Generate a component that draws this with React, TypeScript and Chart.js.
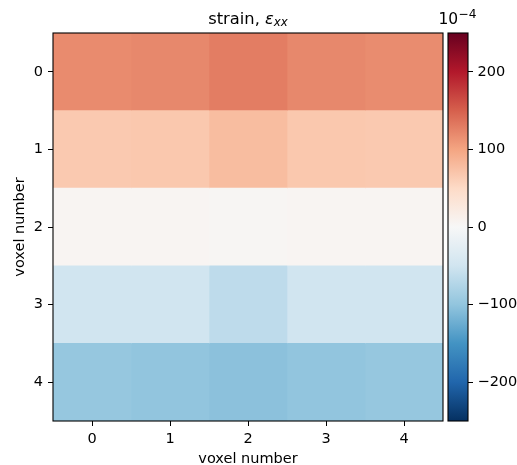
import React, { useEffect, useRef } from 'react';
import { Chart, registerables } from 'chart.js';

Chart.register(...registerables);

// ---- data ----
const columnLabels = ['0', '1', '2', '3', '4'];
const rowLabels = ['0', '1', '2', '3', '4'];
// strain values in units of 1e-4, one array per row (voxel number on y)
const row0 = [119, 121, 129, 121, 118];
const row1 = [67, 68, 78, 68, 67];
const row2 = [5, 5, 4, 5, 5];
const row3 = [-50, -50, -65, -50, -50];
const row4 = [-97, -100, -104, -100, -97];
const strainRows = [row0, row1, row2, row3, row4];
const colorbarTicks = [-200, -100, 0, 100, 200];
const vmin = -250;
const vmax = 250;
// RdBu_r colormap stops (low -> high)
const rdbuR = ['#053061', '#2166ac', '#4393c3', '#92c5de', '#d1e5f0', '#f7f7f7', '#fddbc7', '#f4a582', '#d6604d', '#b2182b', '#67001f'];

const FONT = 'DejaVu Sans';
const FS = 14.5;

function hexToRgb(h: string): number[] {
  const n = parseInt(h.slice(1), 16);
  return [(n >> 16) & 255, (n >> 8) & 255, n & 255];
}
function cmap(v: number): string {
  let t = (v - vmin) / (vmax - vmin);
  t = Math.max(0, Math.min(1, t));
  const pos = t * (rdbuR.length - 1);
  const i = Math.min(rdbuR.length - 2, Math.floor(pos));
  const f = pos - i;
  const a = hexToRgb(rdbuR[i]);
  const b = hexToRgb(rdbuR[i + 1]);
  const c = a.map((x, k) => Math.round(x + (b[k] - x) * f));
  return `rgb(${c[0]},${c[1]},${c[2]})`;
}
function fmtTick(v: number): string {
  return v < 0 ? '\u2212' + Math.abs(v) : String(v);
}

const framePlugin = {
  id: 'frameAndTitle',
  afterDraw(chart: any) {
    const { ctx, chartArea } = chart;
    ctx.save();
    ctx.strokeStyle = '#000';
    ctx.lineWidth = 1.1;
    ctx.strokeRect(chartArea.left, chartArea.top, chartArea.right - chartArea.left, chartArea.bottom - chartArea.top);
    // title: strain, ε_xx
    const p1 = 'strain, ';
    const p2 = '\u03b5';
    const p3 = 'xx';
    ctx.fillStyle = '#000';
    ctx.textBaseline = 'alphabetic';
    ctx.textAlign = 'left';
    ctx.font = `16.3px "${FONT}"`;
    const w1 = ctx.measureText(p1).width;
    ctx.font = `italic 16.3px "${FONT}"`;
    const w2 = ctx.measureText(p2).width;
    ctx.font = `italic 11.8px "${FONT}"`;
    const w3 = ctx.measureText(p3).width;
    const total = w1 + w2 + w3;
    const cx = (chartArea.left + chartArea.right) / 2;
    let x = cx - total / 2;
    const base = 24.3;
    ctx.font = `16.3px "${FONT}"`;
    ctx.fillText(p1, x, base);
    x += w1;
    ctx.font = `italic 16.3px "${FONT}"`;
    ctx.fillText(p2, x, base);
    x += w2;
    ctx.font = `italic 11.8px "${FONT}"`;
    ctx.fillText(p3, x, base + 1.8);
    ctx.restore();
  },
};

const colorbarPlugin = {
  id: 'colorbar',
  beforeDatasetsDraw(chart: any) {
    const { ctx, chartArea } = chart;
    const ys = chart.scales.y;
    const yTop = ys.getPixelForValue(vmax);
    const yBot = ys.getPixelForValue(vmin);
    ctx.save();
    const g = ctx.createLinearGradient(0, yBot, 0, yTop);
    rdbuR.forEach((c, i) => g.addColorStop(i / (rdbuR.length - 1), c));
    ctx.fillStyle = g;
    ctx.fillRect(chartArea.left, yTop, chartArea.right - chartArea.left, yBot - yTop);
    ctx.strokeStyle = '#000';
    ctx.lineWidth = 1.1;
    ctx.strokeRect(chartArea.left, yTop, chartArea.right - chartArea.left, yBot - yTop);
    // offset text 10^-4
    ctx.fillStyle = '#000';
    ctx.textAlign = 'left';
    ctx.textBaseline = 'alphabetic';
    ctx.font = `15.5px "${FONT}"`;
    const x0 = 438.5;
    ctx.fillText('10', x0, 24.2);
    const w = ctx.measureText('10').width;
    ctx.font = `12.2px "${FONT}"`;
    ctx.fillText('\u22124', x0 + w + 0.3, 18.3);
    ctx.restore();
  },
};

export default function App() {
  const mainRef = useRef<HTMLCanvasElement | null>(null);
  const cbRef = useRef<HTMLCanvasElement | null>(null);

  useEffect(() => {
    if (!mainRef.current || !cbRef.current) return;
    const main = new Chart(mainRef.current, {
      type: 'bar',
      data: {
        labels: rowLabels,
        datasets: columnLabels.map((c, ci) => ({
          label: 'column ' + c,
          data: strainRows.map(() => [ci - 0.5, ci + 0.5]),
          backgroundColor: strainRows.map((r) => cmap(r[ci])),
          borderWidth: 0,
          grouped: false,
          barPercentage: 1,
          categoryPercentage: 1,
        })) as any,
      },
      options: {
        indexAxis: 'y',
        animation: false,
        responsive: false,
        devicePixelRatio: 1,
        layout: { padding: { left: 0, top: 33, right: 74, bottom: 0 } },
        plugins: { legend: { display: false }, tooltip: { enabled: false }, title: { display: false } },
        scales: {
          x: {
            type: 'linear',
            min: -0.5,
            max: 4.5,
            afterBuildTicks: (s: any) => {
              s.ticks = columnLabels.map((_, i) => ({ value: i }));
            },
            afterFit: (s: any) => {
              s.height = 44;
            },
            ticks: {
              color: '#000',
              font: { family: FONT, size: FS },
              padding: 5,
              maxRotation: 0,
              callback: (v: any) => columnLabels[Math.round(v)] ?? '',
            },
            grid: { drawOnChartArea: false, drawTicks: true, tickLength: 5, color: '#000', lineWidth: 1 },
            border: { display: false },
            title: {
              display: true,
              text: 'voxel number',
              color: '#000',
              font: { family: FONT, size: FS, lineHeight: 0.85 },
              padding: 0,
            },
          },
          y: {
            type: 'category',
            afterFit: (s: any) => {
              s.width = 53;
            },
            ticks: { color: '#000', font: { family: FONT, size: FS }, padding: 5 },
            grid: { offset: false, drawOnChartArea: false, drawTicks: true, tickLength: 5, color: '#000', lineWidth: 1 },
            border: { display: false },
            title: {
              display: true,
              text: 'voxel number',
              color: '#000',
              font: { family: FONT, size: FS, lineHeight: 1.2 },
              padding: { top: 12, bottom: 0 },
            },
          },
        },
      } as any,
      plugins: [framePlugin],
    });

    const cb = new Chart(cbRef.current, {
      type: 'scatter',
      data: { datasets: [] },
      options: {
        animation: false,
        responsive: false,
        devicePixelRatio: 1,
        layout: { padding: { left: 448, top: 33, right: 0, bottom: 44 } },
        plugins: { legend: { display: false }, tooltip: { enabled: false } },
        scales: {
          x: { type: 'linear', display: false },
          y: {
            type: 'linear',
            position: 'right',
            min: vmin,
            max: vmax,
            afterBuildTicks: (s: any) => {
              s.ticks = colorbarTicks.map((v) => ({ value: v }));
            },
            afterFit: (s: any) => {
              s.width = 49;
            },
            ticks: {
              color: '#000',
              font: { family: FONT, size: FS },
              padding: 4.5,
              callback: (v: any) => fmtTick(Number(v)),
            },
            grid: { drawOnChartArea: false, drawTicks: true, tickLength: 5, color: '#000', lineWidth: 1 },
            border: { display: false },
          },
        },
      } as any,
      plugins: [colorbarPlugin],
    });

    return () => {
      main.destroy();
      cb.destroy();
    };
  }, []);

  return (
    <div style={{ position: 'fixed', left: 0, top: 0, width: 517, height: 465, background: '#fff' }}>
      <canvas ref={mainRef} width={517} height={465} style={{ position: 'absolute', left: 0, top: 0 }} />
      <canvas ref={cbRef} width={517} height={465} style={{ position: 'absolute', left: 0, top: 0 }} />
    </div>
  );
}
